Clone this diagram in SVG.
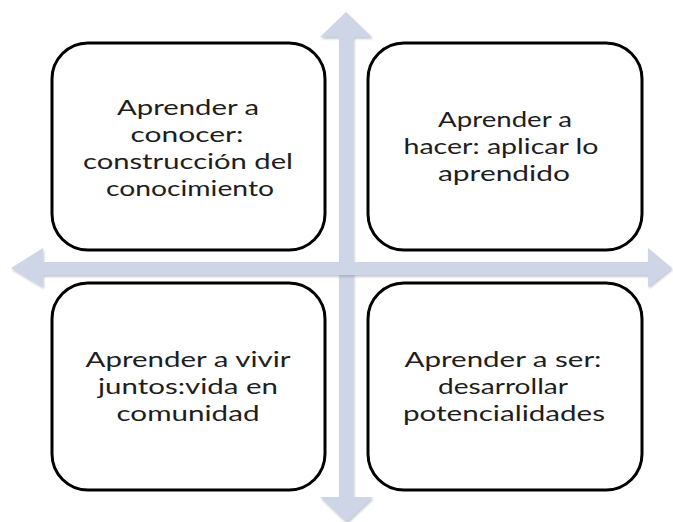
<svg xmlns="http://www.w3.org/2000/svg" width="673" height="522" viewBox="0 0 673 522">
  <defs>
    <filter id="sh" x="-10%" y="-10%" width="120%" height="120%">
      <feDropShadow dx="1" dy="2" stdDeviation="1.2" flood-color="#7f8796" flood-opacity="0.45"/>
    </filter>
  </defs>
  <style>
    .arrow { fill: #cdd5e6; filter: url(#sh); }
    .box { fill: #ffffff; stroke: #000000; stroke-width: 3; }
    .lbl { font-family: Lato, "Open Sans", "DejaVu Sans", sans-serif; font-size: 22px; fill: #1e1e1e; text-anchor: middle; }
  </style>
  <rect width="673" height="522" fill="#ffffff"/>
  <g id="connectors">
    <polygon class="arrow" points="346,12 372,37 353.5,37 353.5,497 373,497 346.5,522 320,497 339,497 339,37 320,37"/>
    <polygon class="arrow" points="11,268 43,248 43,262 648,262 648,248 672,268 648,287 648,275 43,275 43,287"/>
  </g>
  <g id="node-conocer">
    <rect class="box" x="52" y="43" width="273" height="207" rx="36" ry="36"/>
    <text class="lbl" x="188" y="115" textLength="142" lengthAdjust="spacingAndGlyphs">Aprender a</text>
    <text class="lbl" x="187" y="142" textLength="113" lengthAdjust="spacingAndGlyphs">conocer:</text>
    <text class="lbl" x="188" y="169" textLength="210" lengthAdjust="spacingAndGlyphs">construcción del</text>
    <text class="lbl" x="190" y="196" textLength="168" lengthAdjust="spacingAndGlyphs">conocimiento</text>
  </g>
  <g id="node-hacer">
    <rect class="box" x="368" y="43" width="274" height="207" rx="36" ry="36"/>
    <text class="lbl" x="505" y="127" textLength="134" lengthAdjust="spacingAndGlyphs">Aprender a</text>
    <text class="lbl" x="501" y="154" textLength="195" lengthAdjust="spacingAndGlyphs">hacer: aplicar lo</text>
    <text class="lbl" x="504" y="181" textLength="132" lengthAdjust="spacingAndGlyphs">aprendido</text>
  </g>
  <g id="node-vivir">
    <rect class="box" x="52" y="283" width="273" height="207" rx="36" ry="36"/>
    <text class="lbl" x="188" y="367" textLength="205" lengthAdjust="spacingAndGlyphs">Aprender a vivir</text>
    <text class="lbl" x="188" y="394" textLength="180" lengthAdjust="spacingAndGlyphs">juntos:vida en</text>
    <text class="lbl" x="188" y="421" textLength="143" lengthAdjust="spacingAndGlyphs">comunidad</text>
  </g>
  <g id="node-ser">
    <rect class="box" x="368" y="283" width="274" height="207" rx="36" ry="36"/>
    <text class="lbl" x="503" y="367" textLength="197" lengthAdjust="spacingAndGlyphs">Aprender a ser:</text>
    <text class="lbl" x="503" y="394" textLength="130" lengthAdjust="spacingAndGlyphs">desarrollar</text>
    <text class="lbl" x="504" y="421" textLength="202" lengthAdjust="spacingAndGlyphs">potencialidades</text>
  </g>
</svg>
